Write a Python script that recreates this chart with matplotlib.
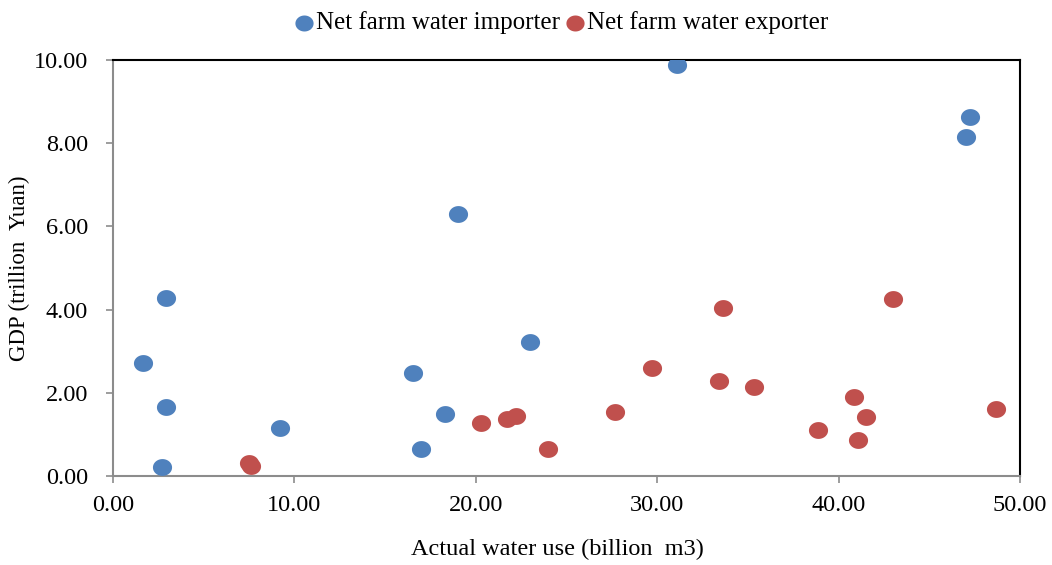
import numpy as np
import matplotlib.pyplot as plt
from matplotlib.path import Path

# water use (billion m3) and GDP (trillion yuan) per province
imp_water = [31.09, 47.25, 47.03, 19.02, 2.92, 22.99, 1.65, 16.54, 2.92, 18.30, 9.21, 16.98, 2.70]
imp_gdp = [9.88, 8.63, 8.15, 6.30, 4.28, 3.22, 2.72, 2.48, 1.66, 1.49, 1.15, 0.65, 0.22]

exp_water = [7.50, 7.61, 20.29, 21.72, 22.22, 23.98, 27.68, 29.72, 33.41, 33.63, 35.34,
             38.87, 40.85, 41.07, 41.51, 43.00, 48.68]
exp_gdp = [0.31, 0.24, 1.27, 1.37, 1.44, 0.65, 1.54, 2.60, 2.28, 4.04, 2.14,
           1.11, 1.90, 0.87, 1.42, 4.25, 1.61]

plt.rcParams['font.family'] = ['Liberation Serif', 'DejaVu Serif']

# slightly flattened circle marker
t = np.linspace(0, 2 * np.pi, 60)
ellipse = Path(np.column_stack([np.cos(t), 0.88 * np.sin(t)]), closed=True)

fig = plt.figure(figsize=(10.52, 5.65), dpi=100)
ax = fig.add_axes([0.1074, 0.1575, 0.8622, 0.7363])

ax.scatter(imp_water, imp_gdp, s=190, marker=ellipse, color='#4F81BD', linewidths=0,
           label='Net farm water importer', zorder=3)
ax.scatter(exp_water, exp_gdp, s=190, marker=ellipse, color='#C0504D', linewidths=0,
           label='Net farm water exporter', zorder=3)

ax.set_xlim(0, 50)
ax.set_ylim(0, 10)
ax.set_xticks(np.arange(0, 51, 10))
ax.set_yticks(np.arange(0, 11, 2))
ax.xaxis.set_major_formatter(plt.FormatStrFormatter('%.2f'))
ax.yaxis.set_major_formatter(plt.FormatStrFormatter('%.2f'))
ax.tick_params(direction='out', length=5, width=1.2, color='#8c8c8c', labelsize=17.5)
ax.tick_params(axis='x', pad=9)
ax.tick_params(axis='y', pad=13)

for side in ['left', 'bottom']:
    ax.spines[side].set_color('#8c8c8c')
    ax.spines[side].set_linewidth(1.5)
for side in ['top', 'right']:
    ax.spines[side].set_color('black')
    ax.spines[side].set_linewidth(1.5)

ax.set_xlabel('Actual water use (billion  m3)', fontsize=17.5, labelpad=16)
ax.xaxis.label.set_x(0.49)
ax.set_ylabel('GDP (trillion  Yuan)', fontsize=16.5)
ax.yaxis.set_label_coords(-0.092, 0.5)

fig.legend(loc='upper center', bbox_to_anchor=(0.531, 1.02), ncol=2, frameon=False,
           fontsize=18, handletextpad=-0.12, columnspacing=0.0, markerscale=0.95,
           handlelength=1.2)

fig.savefig('out.png', dpi=100)
